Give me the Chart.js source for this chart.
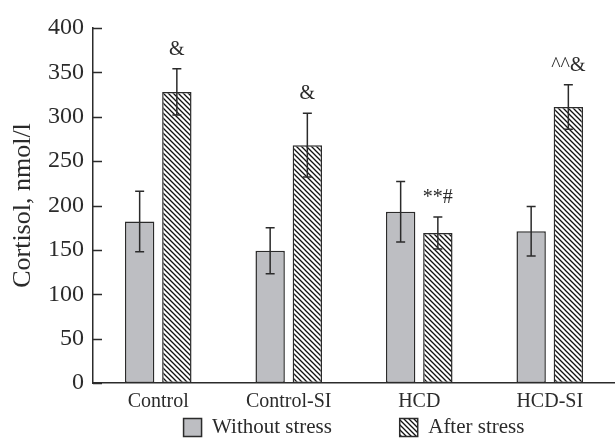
<!DOCTYPE html>
<html>
<head>
<meta charset="utf-8">
<script src="https://cdn.jsdelivr.net/npm/chart.js@4.4.0/dist/chart.umd.min.js"></script>
<style>
  html, body { margin: 0; padding: 0; background: #fff; overflow: hidden; }
  #wrap { position: relative; width: 615px; height: 441px; }
</style>
</head>
<body>
<div id="wrap"><canvas id="chart"></canvas></div>
<script>
// data
const groups = ["Control", "Control-SI", "HCD", "HCD-SI"];
const seriesNames = ["Without stress", "After stress"];
const withoutStress = [182, 149, 193, 171];
const withoutStressErr = [34, 26, 34, 28];
const afterStress = [328, 268, 169, 311];
const afterStressErr = [26, 36, 18, 25];
const afterStressMarks = ["&", "&", "**#", "^^&"];
const yTicks = [0, 50, 100, 150, 200, 250, 300, 350, 400];

const SERIF = "'Liberation Serif', 'DejaVu Serif', serif";
const INK = "#2b2b2b";

// diagonal hatch for the "after stress" bars
function makeHatch() {
  const s = 5;
  const c = document.createElement("canvas");
  c.width = s; c.height = s;
  const g = c.getContext("2d");
  g.fillStyle = "#fff";
  g.fillRect(0, 0, s, s);
  g.strokeStyle = "#111";
  g.lineWidth = 1.3;
  g.beginPath();
  g.moveTo(-s, 0); g.lineTo(s, 2 * s);
  g.moveTo(0, 0); g.lineTo(s, s);
  g.moveTo(0, -s); g.lineTo(2 * s, s);
  g.stroke();
  return g.createPattern(c, "repeat");
}
const hatch = makeHatch();

const errors = [withoutStressErr, afterStressErr];

// error bars + significance marks
const errorBars = {
  id: "errorBars",
  afterDatasetsDraw(chart) {
    const ctx = chart.ctx;
    const y = chart.scales.y;
    ctx.save();
    ctx.strokeStyle = INK;
    ctx.lineWidth = 1.5;
    chart.data.datasets.forEach((ds, di) => {
      const meta = chart.getDatasetMeta(di);
      meta.data.forEach((bar, i) => {
        const v = ds.data[i], e = errors[di][i];
        const top = y.getPixelForValue(v + e);
        const bot = y.getPixelForValue(v - e);
        ctx.beginPath();
        ctx.moveTo(bar.x, top); ctx.lineTo(bar.x, bot);
        ctx.moveTo(bar.x - 4.5, top); ctx.lineTo(bar.x + 4.5, top);
        ctx.moveTo(bar.x - 4.5, bot); ctx.lineTo(bar.x + 4.5, bot);
        ctx.stroke();
        if (di === 1) {
          ctx.fillStyle = INK;
          ctx.font = "20px " + SERIF;
          ctx.textAlign = "center";
          ctx.textBaseline = "bottom";
          ctx.fillText(afterStressMarks[i], bar.x, top - 9);
        }
      });
    });
    ctx.restore();
  }
};

// short inward tick marks on the y axis
const innerTicks = {
  id: "innerTicks",
  afterDraw(chart) {
    const ctx = chart.ctx;
    const y = chart.scales.y;
    const left = chart.chartArea.left;
    ctx.save();
    ctx.strokeStyle = INK;
    ctx.lineWidth = 1.3;
    ctx.beginPath();
    yTicks.forEach(t => {
      const py = Math.round(y.getPixelForValue(t)) + 0.5;
      ctx.moveTo(left, py);
      ctx.lineTo(left + 9, py);
    });
    ctx.stroke();
    ctx.restore();
  }
};

new Chart(document.getElementById("chart"), {
  type: "bar",
  data: {
    labels: groups,
    datasets: [
      {
        label: seriesNames[0],
        data: withoutStress,
        backgroundColor: "#bdbec2",
        borderColor: INK,
        borderWidth: 1.5,
        borderSkipped: false,
        barPercentage: 0.79,
        categoryPercentage: 0.57
      },
      {
        label: seriesNames[1],
        data: afterStress,
        backgroundColor: hatch,
        borderColor: INK,
        borderWidth: 1.5,
        borderSkipped: false,
        barPercentage: 0.79,
        categoryPercentage: 0.57
      }
    ]
  },
  options: {
    responsive: true,
    maintainAspectRatio: false,
    animation: false,
    layout: { padding: { top: 28, right: -6, bottom: 0, left: 0 } },
    plugins: {
      tooltip: { enabled: false },
      legend: {
        position: "bottom",
        fullSize: false,
        maxHeight: 34,
        labels: {
          color: INK,
          font: { family: SERIF, size: 21 },
          boxWidth: 18,
          boxHeight: 18,
          padding: 10,
          generateLabels(chart) {
            const items = Chart.defaults.plugins.legend.labels.generateLabels(chart);
            items[0].text += "           ";
            return items;
          }
        }
      }
    },
    scales: {
      x: {
        grid: { display: false, drawTicks: false },
        border: { display: true, color: INK, width: 1.5 },
        ticks: { color: INK, font: { family: SERIF, size: 20 }, padding: 7 },
        afterFit(scale) { scale.height = 24; }
      },
      y: {
        min: 0,
        max: 400,
        grid: { display: false, drawTicks: false },
        border: { display: true, color: INK, width: 1.5 },
        afterBuildTicks(scale) { scale.ticks = yTicks.map(v => ({ value: v })); },
        ticks: { color: INK, font: { family: SERIF, size: 24 }, padding: 9 },
        title: {
          display: true,
          text: "Cortisol, nmol/l",
          color: INK,
          font: { family: SERIF, size: 26 },
          padding: { top: 8, bottom: 0 }
        },
        afterFit(scale) { scale.width = 93; }
      }
    }
  },
  plugins: [errorBars, innerTicks]
});
</script>
</body>
</html>
